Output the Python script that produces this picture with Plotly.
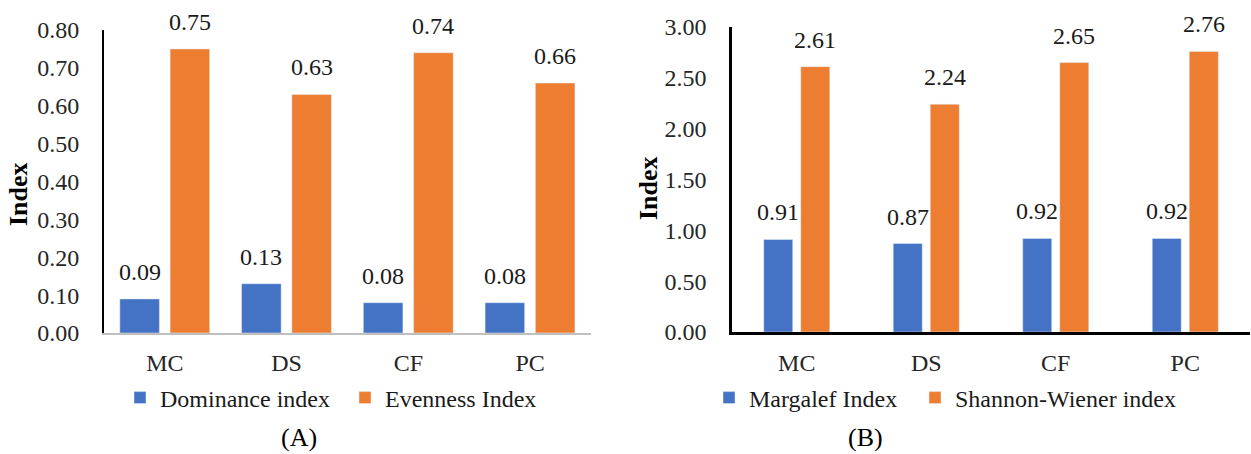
import plotly.graph_objects as go

categories = ["MC", "DS", "CF", "PC"]
dominance = [0.09, 0.13, 0.08, 0.08]
evenness = [0.75, 0.63, 0.74, 0.66]
margalef = [0.91, 0.87, 0.92, 0.92]
shannon = [2.61, 2.24, 2.65, 2.76]
y_ticks_a = [0.0, 0.1, 0.2, 0.3, 0.4, 0.5, 0.6, 0.7, 0.8]
y_ticks_b = [0.0, 0.5, 1.0, 1.5, 2.0, 2.5, 3.0]

BLUE = "#4472C4"
ORANGE = "#ED7D31"
FONT = "Liberation Serif"
W, H = 1251, 454

def px_x(p):
    return p / W

def px_y(p):
    return (H - p) / H

# bar geometry (category units)
wa, oa1, oa2 = 0.325, -0.37, 0.043
wb, ob1, ob2 = 0.224, -0.255, 0.031

fig = go.Figure()
fig.add_trace(go.Bar(x=categories, y=dominance, name="Dominance index",
                     marker_color=BLUE, width=wa, offset=oa1,
                     xaxis="x", yaxis="y", legend="legend"))
fig.add_trace(go.Bar(x=categories, y=evenness, name="Evenness Index",
                     marker_color=ORANGE, width=wa, offset=oa2,
                     xaxis="x", yaxis="y", legend="legend2"))
fig.add_trace(go.Bar(x=categories, y=margalef, name="Margalef Index",
                     marker_color=BLUE, width=wb, offset=ob1,
                     xaxis="x2", yaxis="y2", legend="legend3"))
fig.add_trace(go.Bar(x=categories, y=shannon, name="Shannon-Wiener index",
                     marker_color=ORANGE, width=wb, offset=ob2,
                     xaxis="x2", yaxis="y2", legend="legend4"))

annotations = []
def add_labels(vals, off, w, xref, yref):
    for i, v in enumerate(vals):
        annotations.append(dict(x=i + off + w / 2, y=v, xref=xref, yref=yref,
                                text=f"{v:.2f}", showarrow=False,
                                xanchor="center", yanchor="bottom", yshift=12,
                                font=dict(family=FONT, size=24, color="#1a1a1a")))

add_labels(dominance, oa1, wa, "x", "y")
add_labels(evenness, oa2, wa, "x", "y")
add_labels(margalef, ob1, wb, "x2", "y2")
add_labels(shannon, ob2, wb, "x2", "y2")

for xc, yc in [(18, 194), (648, 188)]:
    annotations.append(dict(x=px_x(xc), y=px_y(yc), xref="paper", yref="paper",
                            text="<b>Index</b>", textangle=-90, showarrow=False,
                            xanchor="center", yanchor="middle",
                            font=dict(family=FONT, size=26, color="#000000")))
for xc, txt in [(299, "(A)"), (866, "(B)")]:
    annotations.append(dict(x=px_x(xc), y=px_y(437), xref="paper", yref="paper",
                            text=txt, showarrow=False,
                            xanchor="center", yanchor="middle",
                            font=dict(family=FONT, size=26, color="#000000")))

tickfont = dict(family=FONT, size=24, color="#262626")

def legend_at(xp):
    return dict(orientation="h", x=px_x(xp), y=px_y(398), xanchor="left",
                yanchor="middle", font=dict(family=FONT, size=24, color="#1a1a1a"),
                bgcolor="rgba(0,0,0,0)")

fig.update_layout(
    width=W, height=H,
    margin=dict(l=0, r=0, t=0, b=0, autoexpand=False),
    paper_bgcolor="white", plot_bgcolor="white",
    barmode="overlay",
    showlegend=True,
    annotations=annotations,
    xaxis=dict(domain=[px_x(104), px_x(591)], anchor="y", type="category",
               range=[-0.5, 3.5], showline=True, linecolor="#BFBFBF", linewidth=2,
               showgrid=False, ticks="", tickfont=tickfont, ticklabelstandoff=7,
               automargin=False),
    yaxis=dict(domain=[px_y(333), px_y(30)], anchor="x", range=[0, 0.8],
               tickvals=y_ticks_a, tickformat=".2f", showline=True,
               linecolor="#000000", linewidth=2, showgrid=False, zeroline=False,
               ticks="", tickfont=tickfont, ticklabelstandoff=18, automargin=False),
    xaxis2=dict(domain=[px_x(732), px_x(1250)], anchor="y2", type="category",
                range=[-0.5, 3.5], showline=True, linecolor="#000000", linewidth=2.5,
                showgrid=False, ticks="", tickfont=tickfont, ticklabelstandoff=7,
                automargin=False),
    yaxis2=dict(domain=[px_y(332), px_y(27)], anchor="x2", range=[0, 3],
                tickvals=y_ticks_b, tickformat=".2f", showline=True,
                linecolor="#000000", linewidth=2.5, showgrid=False, zeroline=False,
                ticks="", tickfont=tickfont, ticklabelstandoff=18, automargin=False),
    legend=legend_at(120),
    legend2=legend_at(345),
    legend3=legend_at(709),
    legend4=legend_at(915),
)

fig.write_html("out.html", config={"displayModeBar": False},
               post_script="document.body.style.margin='0';")
